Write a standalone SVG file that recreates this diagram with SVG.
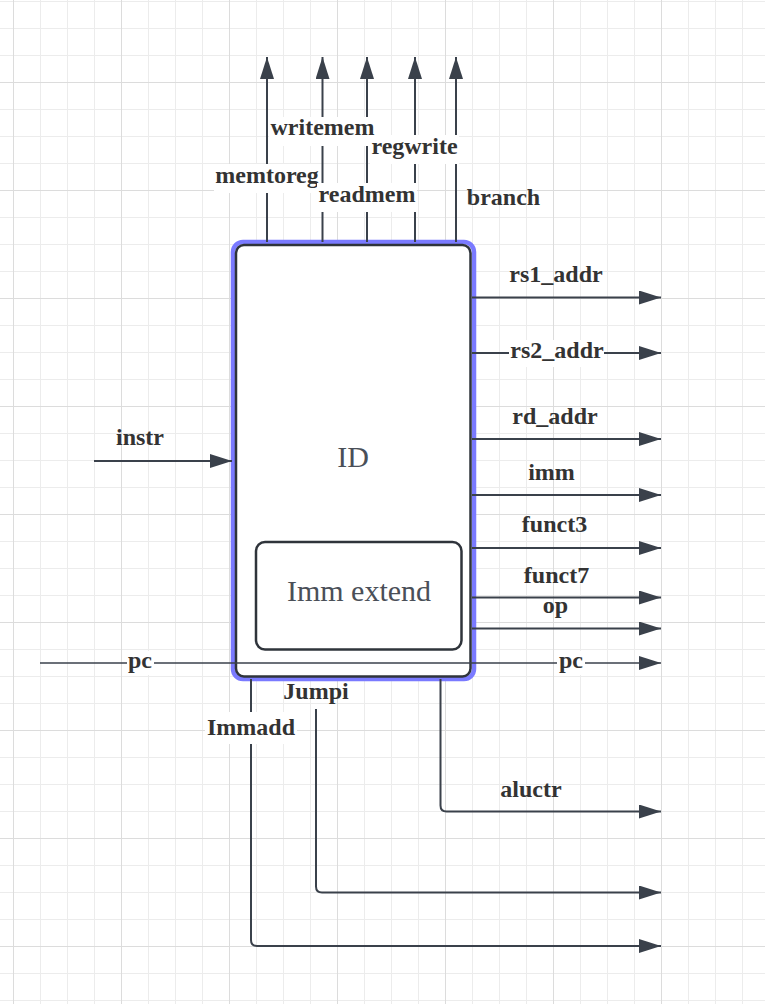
<svg xmlns="http://www.w3.org/2000/svg" width="765" height="1004" viewBox="0 0 765 1004">
<style>
.lbl{font-family:"Liberation Serif","Times New Roman",serif;font-weight:bold;font-size:24px;fill:#333333;text-anchor:middle}
.big{font-family:"Liberation Serif","Times New Roman",serif;font-size:30px;fill:#4a4f58;text-anchor:middle}
.wire{fill:none;stroke:#3a414b;stroke-width:2}
.arr{fill:none;stroke:#3a414b;stroke-width:2;marker-end:url(#ah)}
.bg{fill:#ffffff}
</style>
<defs>
<pattern id="minor" patternUnits="userSpaceOnUse" x="13" y="1" width="27" height="27">
<path d="M0 0.5H27M0.5 0V27" stroke="#ececec" stroke-width="1" fill="none"/>
</pattern>
<pattern id="major" patternUnits="userSpaceOnUse" x="13" y="82" width="108" height="108">
<path d="M0 0.5H108M0.5 0V108" stroke="#dcdcdc" stroke-width="1" fill="none"/>
</pattern>
<marker id="ah" markerUnits="userSpaceOnUse" markerWidth="22" markerHeight="14" refX="22" refY="7" orient="auto" viewBox="0 0 22 14">
<path d="M0 0L22 7L0 14Z" fill="#3a414b"/>
</marker>
</defs>
<rect width="765" height="1004" fill="#ffffff"/>
<rect width="765" height="1004" fill="url(#minor)"/>
<rect width="765" height="1004" fill="url(#major)"/>

<g id="node-ID">
<rect x="233" y="242" width="241" height="437" rx="10" fill="#ffffff" stroke="#7a7aff" stroke-width="4.5"/>
<rect x="236" y="245" width="234.5" height="431.5" rx="8" fill="#ffffff" stroke="#2f343b" stroke-width="2.5"/>
<text class="big" x="353" y="467">ID</text>
</g>

<g id="node-imm-extend">
<rect x="256" y="542" width="205.5" height="107.5" rx="9" fill="#ffffff" stroke="#2f343b" stroke-width="2.5"/>
<text class="big" x="359" y="601">Imm extend</text>
</g>

<g id="connectors">
<line class="arr" x1="267" y1="242" x2="267" y2="57"/>
<line class="arr" x1="322.5" y1="242" x2="322.5" y2="57"/>
<line class="arr" x1="367" y1="242" x2="367" y2="57"/>
<line class="arr" x1="415" y1="242" x2="415" y2="57"/>
<line class="arr" x1="456" y1="242" x2="456" y2="57"/>
<line class="arr" x1="472" y1="297.5" x2="661" y2="297.5"/>
<line class="arr" x1="472" y1="353" x2="661" y2="353"/>
<line class="arr" x1="472" y1="439" x2="661" y2="439"/>
<line class="arr" x1="472" y1="495" x2="661" y2="495"/>
<line class="arr" x1="472" y1="548" x2="661" y2="548"/>
<line class="arr" x1="472" y1="597.5" x2="661" y2="597.5"/>
<line class="arr" x1="472" y1="628.5" x2="661" y2="628.5"/>
<line class="arr" x1="94" y1="461" x2="232" y2="461"/>
<line class="arr" x1="40" y1="663" x2="661" y2="663" style="stroke-width:1.5"/>
<path class="arr" d="M440.5 679V805.5Q440.5 811.5 446.5 811.5H661"/>
<path class="arr" d="M316 709V886.5Q316 892.5 322 892.5H661"/>
<path class="arr" d="M251 679V940Q251 946 257 946H661"/>
</g>

<g id="labels">
<rect class="bg" x="214" y="164" width="106" height="29"/>
<text class="lbl" x="267" y="183">memtoreg</text>
<rect class="bg" x="269" y="117" width="107" height="29"/>
<text class="lbl" x="322.5" y="135">writemem</text>
<rect class="bg" x="317" y="183" width="100" height="29"/>
<text class="lbl" x="367" y="202">readmem</text>
<rect class="bg" x="370" y="135" width="89" height="29"/>
<text class="lbl" x="414.5" y="154">regwrite</text>
<text class="lbl" x="503.5" y="205">branch</text>

<text class="lbl" x="556" y="282">rs1_addr</text>
<rect class="bg" x="509" y="340" width="95" height="27"/>
<text class="lbl" x="557" y="358">rs2_addr</text>
<text class="lbl" x="555" y="424">rd_addr</text>
<text class="lbl" x="551.5" y="480">imm</text>
<text class="lbl" x="554.5" y="532">funct3</text>
<text class="lbl" x="556.5" y="583">funct7</text>
<text class="lbl" x="555.5" y="613">op</text>
<rect class="bg" x="557" y="651" width="28" height="24"/>
<text class="lbl" x="571" y="668">pc</text>
<rect class="bg" x="127" y="651" width="27" height="24"/>
<text class="lbl" x="140" y="668">pc</text>

<text class="lbl" x="140" y="445">instr</text>
<text class="lbl" x="531" y="797">aluctr</text>
<text class="lbl" x="316" y="699">Jumpi</text>
<rect class="bg" x="205" y="712" width="92" height="32"/>
<text class="lbl" x="251" y="735">Immadd</text>
</g>
</svg>
